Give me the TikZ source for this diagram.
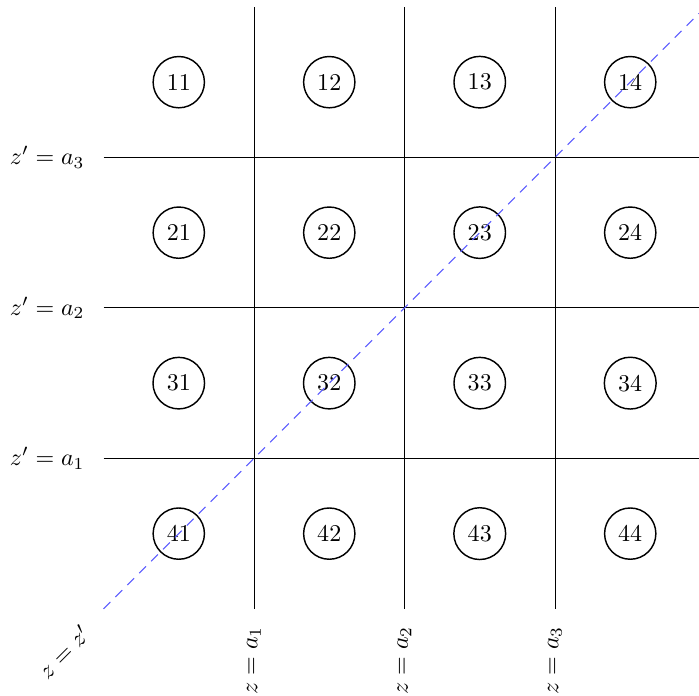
\documentclass[tikz,border=0pt]{standalone}
\begin{document}
\begin{tikzpicture}[x=2.2cm,y=2.2cm,
  cell/.style={circle,draw,semithick},
  gridline/.style={black},
  diag/.style={blue!65,dash pattern=on 4pt off 3pt},
  lab/.style={inner sep=3.33pt}]
\useasboundingbox (-0.688,-0.576) rectangle (3.957,4.046);
% grid coordinates
\foreach \i in {1,2,3}{
  \coordinate (vb\i) at (\i,0);
  \coordinate (vt\i) at (\i,4);
  \coordinate (hl\i) at (0,\i);
  \coordinate (hr\i) at (3.957,\i);
}
\foreach \i in {1,2,3}{
  \draw[gridline] (vb\i) -- (vt\i);
  \draw[gridline] (hl\i) -- (hr\i);
}
% cells
\foreach \r in {1,2,3,4}{
  \foreach \c in {1,2,3,4}{
    \node[cell] (n\r\c) at ({\c-0.5},{4.5-\r}) {\r\c};
  }
}
% labels
\foreach \i in {1,2,3}{
  \node[lab,anchor=east] (hlab\i) at (-0.07,\i) {$z'=a_\i$};
  \node[lab,rotate=90,anchor=east] (vlab\i) at (\i,-0.06) {$z=a_\i$};
}
% diagonal
\coordinate (d0) at (0,0);
\coordinate (d1) at (3.957,3.957);
\draw[diag] (d0) -- (d1);
\node[lab,rotate=45,anchor=east] (dlab) at (-0.075,-0.095) {$z=z'$};
\end{tikzpicture}
\end{document}
